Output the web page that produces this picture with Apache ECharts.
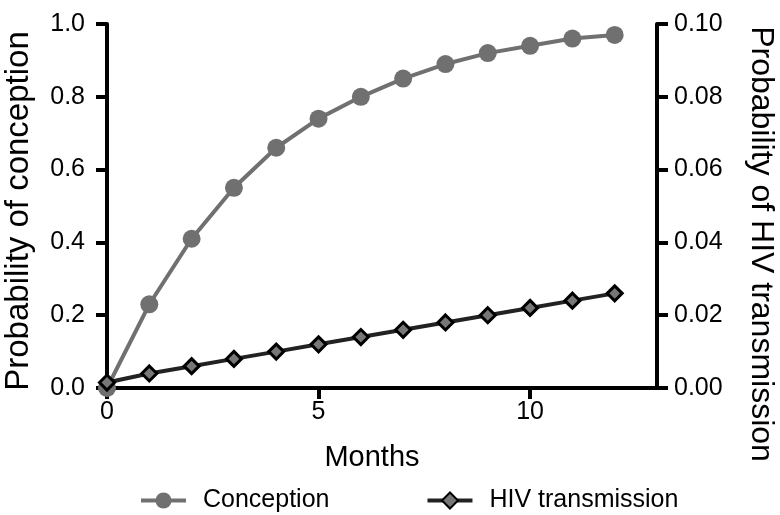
<!DOCTYPE html>
<html>
<head>
<meta charset="utf-8">
<script src="https://cdn.jsdelivr.net/npm/echarts@6/dist/echarts.min.js"></script>
<style>html,body{margin:0;padding:0;background:#fff;}#c{width:780px;height:515px;}</style>
</head>
<body>
<div id="c"></div>
<script>
const months = [0,1,2,3,4,5,6,7,8,9,10,11,12];
const conception = [0,0.23,0.41,0.55,0.66,0.74,0.80,0.85,0.89,0.92,0.94,0.96,0.97];
const hivTransmission = [0.0015,0.004,0.006,0.008,0.010,0.012,0.014,0.016,0.018,0.020,0.022,0.024,0.026];
const xTicks = [0,5,10];
const seriesNames = ['Conception','HIV transmission'];

const FONT = 'Liberation Sans, Arial, Helvetica, sans-serif';
const chart = echarts.init(document.getElementById('c'), null, {renderer:'canvas'});
const axisLine = {show:true, lineStyle:{color:'#000', width:4}};
const axisTick = {show:true, length:11, lineStyle:{color:'#000', width:4}};
chart.setOption({
  animation:false,
  backgroundColor:'#fff',
  textStyle:{fontFamily:FONT},
  grid:{left:107, right:123, top:24, bottom:127, containLabel:false, outerBoundsMode:'none'},
  legend:{
    left:134, top:483, itemWidth:45, itemHeight:20, itemGap:96,
    lineStyle:{width:4},
    textStyle:{fontFamily:FONT, fontSize:25, color:'#000', padding:[0,0,0,12]},
    data:seriesNames
  },
  xAxis:{
    type:'value', min:0, max:13, interval:5,
    name:'Months', nameLocation:'middle', nameGap:55,
    nameTextStyle:{fontFamily:FONT, fontSize:29, color:'#000', padding:[0,20,0,0]},
    axisLine:axisLine,
    axisTick:Object.assign({customValues:xTicks}, axisTick),
    axisLabel:{customValues:xTicks, fontFamily:FONT, fontSize:25, color:'#000', margin:12},
    splitLine:{show:false}
  },
  yAxis:[{
    type:'value', min:0, max:1, interval:0.2, position:'left',
    name:'Probability of conception', nameLocation:'middle', nameGap:72, nameRotate:90,
    nameTextStyle:{fontFamily:FONT, fontSize:33, color:'#000', padding:[0,10,0,0]},
    axisLine:axisLine, axisTick:axisTick,
    axisLabel:{fontFamily:FONT, fontSize:25, color:'#000', margin:22, formatter:v=>v.toFixed(1)},
    splitLine:{show:false}
  },{
    type:'value', min:0, max:0.1, interval:0.02, position:'right',
    name:'Probability of HIV transmission', nameLocation:'middle', nameGap:88, nameRotate:-90,
    nameTextStyle:{fontFamily:FONT, fontSize:32, color:'#000', padding:[0,0,0,76]},
    axisLine:axisLine, axisTick:axisTick,
    axisLabel:{fontFamily:FONT, fontSize:25, color:'#000', margin:17, formatter:v=>v.toFixed(2)},
    splitLine:{show:false}
  }],
  series:[{
    name:seriesNames[0], type:'line', yAxisIndex:0,
    data:months.map((m,i)=>[m, conception[i]]),
    symbol:'circle', symbolSize:18,
    lineStyle:{color:'#707070', width:4},
    itemStyle:{color:'#707070'}
  },{
    name:seriesNames[1], type:'line', yAxisIndex:1,
    data:months.map((m,i)=>[m, hivTransmission[i]]),
    symbol:'diamond', symbolSize:15,
    lineStyle:{color:'#222', width:4},
    itemStyle:{color:'#777', borderColor:'#000', borderWidth:3}
  }]
});
</script>
</body>
</html>
